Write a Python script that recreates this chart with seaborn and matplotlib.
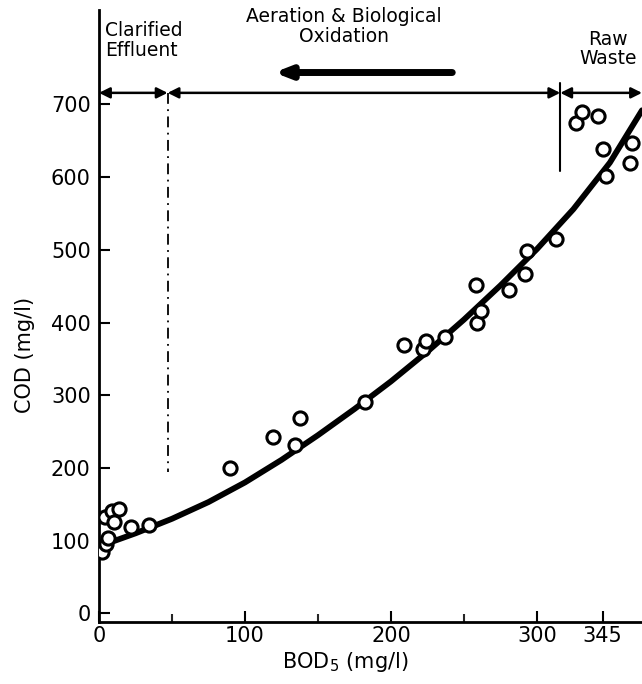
import numpy as np
import pandas as pd
import matplotlib
matplotlib.use("Agg")
import matplotlib.pyplot as plt
import seaborn as sns

bod_obs = [2, 5, 6, 4, 9, 14, 10, 22, 34,
           90, 119, 134, 138, 182,
           209, 222, 224, 237, 258, 259, 262, 281, 292, 293,
           313, 327, 331, 342, 345, 347, 364, 365]
cod_obs = [84, 95, 104, 132, 141, 143, 126, 119, 121,
           200, 243, 231, 268, 291,
           369, 363, 375, 380, 452, 399, 416, 445, 467, 499,
           515, 675, 690, 684, 639, 601, 619, 647]

# Fitted curve
bod_fit = [0, 25, 50, 75, 100, 125, 150, 175, 200, 225, 250, 275, 300, 325, 350, 372]
cod_fit = [92, 110, 130, 153, 180, 211, 245, 281, 319, 360, 404, 451, 501, 556, 620, 692]

x_ticks = [0, 100, 200, 300, 345]
x_minor = [50, 150, 250]
y_ticks = [0, 100, 200, 300, 400, 500, 600, 700]

obs = pd.DataFrame({"BOD": bod_obs, "COD": cod_obs})
fit = pd.DataFrame({"BOD": bod_fit, "COD": cod_fit})

sns.set_style("ticks")
plt.rcParams["font.family"] = ["DejaVu Sans"]
plt.rcParams["text.color"] = "black"

fig = plt.figure(figsize=(6.42, 6.84), dpi=100)
ax = fig.add_axes([99 / 642, 1 - 622 / 684, 543 / 642, 612 / 684])

sns.lineplot(data=fit, x="BOD", y="COD", ax=ax, color="black", linewidth=4.2, zorder=2)
sns.scatterplot(data=obs, x="BOD", y="COD", ax=ax, s=90, marker="o",
                facecolor="white", edgecolor="black", linewidth=2.2, zorder=3)

ax.set_xlim(0, 372)
ax.set_ylim(-12, 830)

for side in ["top", "right"]:
    ax.spines[side].set_visible(False)
for side in ["left", "bottom"]:
    ax.spines[side].set_linewidth(2)
    ax.spines[side].set_color("black")

ax.set_xticks(x_ticks)
ax.set_xticks(x_minor, minor=True)
ax.set_yticks(y_ticks)
ax.tick_params(axis="both", which="major", direction="in", length=8, width=1.5,
               labelsize=15, colors="black")
ax.tick_params(axis="x", which="minor", direction="in", length=6, width=1.5)
ax.tick_params(axis="y", pad=6)
ax.tick_params(axis="x", pad=3)

ax.set_xlabel("BOD$_5$ (mg/l)", fontsize=15, color="black")
ax.set_ylabel("COD (mg/l)", fontsize=15, color="black")
ax.xaxis.set_label_coords(0.453, -0.045)
ax.yaxis.set_label_coords(-0.118, 0.436)

# process stage markers along the top
y_arrow = 716
arrow = dict(arrowstyle="<|-|>", color="black", lw=1.8, mutation_scale=16, shrinkA=0, shrinkB=0)
ax.annotate("", xy=(0, y_arrow), xytext=(47, y_arrow), arrowprops=arrow, annotation_clip=False)
ax.annotate("", xy=(47, y_arrow), xytext=(316, y_arrow), arrowprops=arrow, annotation_clip=False)
ax.annotate("", xy=(316, y_arrow), xytext=(372, y_arrow), arrowprops=arrow, annotation_clip=False)
ax.plot([47, 47], [y_arrow, 194], color="black", lw=1.3, linestyle=(0, (6, 3, 1, 3)))
ax.plot([316, 316], [730, 608], color="black", lw=1.5)
ax.annotate("", xy=(120, 744), xytext=(242, 744), annotation_clip=False,
            arrowprops=dict(arrowstyle="-|>,head_length=0.9,head_width=0.35", color="black",
                            lw=5, shrinkA=0, shrinkB=0))

ax.text(4, 815, "Clarified\nEffluent", fontsize=13.5, ha="left", va="top",
        linespacing=1.05, color="black")
ax.text(168, 834, "Aeration & Biological\nOxidation", fontsize=13.5, ha="center", va="top",
        linespacing=1.05, color="black")
ax.text(349, 803, "Raw\nWaste", fontsize=13.5, ha="center", va="top",
        linespacing=1.05, color="black")

fig.savefig("out.png", dpi=100)
